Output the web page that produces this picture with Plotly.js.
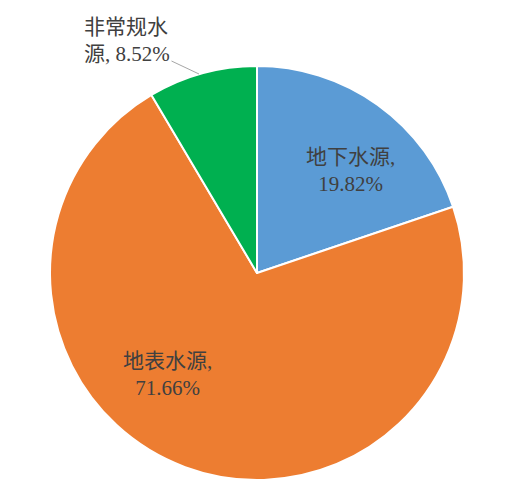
<!DOCTYPE html>
<html>
<head>
<meta charset="utf-8">
<script src="https://cdn.plot.ly/plotly-3.0.1.min.js"></script>
<style>
html, body { margin: 0; padding: 0; background: #fff; }
#chart { width: 511px; height: 500px; }
</style>
</head>
<body>
<div id="chart"></div>
<script>
// water source shares (%)
var sources = ['地下水源', '地表水源', '非常规水源'];
var shares = [19.82, 71.66, 8.52];
var colors = ['#5B9BD5', '#ED7D31', '#00B050'];

var labelFont = {family: 'Liberation Serif, Times New Roman, DejaVu Serif, Noto Sans CJK SC', size: 21, color: '#404040'};

var pieTrace = {
    type: 'pie',
    labels: sources,
    values: shares,
    textinfo: 'none',
    sort: false,
    direction: 'clockwise',
    rotation: 0,
    domain: {x: [50 / 511, 464 / 511], y: [20 / 500, 434 / 500]},
    marker: {colors: colors, line: {color: '#ffffff', width: 2}},
    showlegend: false
};

// data labels, text built from the arrays above
var pct = shares.map(function (v) { return v.toFixed(2) + '%'; });
var annos = [
    {
        text: sources[0] + ',<br>' + pct[0],
        x: 350 / 511, y: 1 - 170 / 500,
        showarrow: false
    },
    {
        text: sources[1] + ',<br>' + pct[1],
        x: 167 / 511, y: 1 - 374 / 500,
        showarrow: false
    },
    {
        text: sources[2].slice(0, 4) + '<br>' + sources[2].slice(4) + ', ' + pct[2],
        x: 199 / 511, y: 1 - 74 / 500,
        showarrow: true, arrowhead: 0, arrowwidth: 1, arrowcolor: '#a6a6a6',
        ax: -72, ay: -34, align: 'left'
    }
];
annos.forEach(function (a) {
    a.xref = 'paper';
    a.yref = 'paper';
    a.xanchor = 'center';
    a.yanchor = 'middle';
    a.font = labelFont;
});

var layout = {
    width: 511,
    height: 500,
    margin: {l: 0, r: 0, t: 0, b: 0},
    paper_bgcolor: '#ffffff',
    showlegend: false,
    annotations: annos
};

Plotly.newPlot('chart', [pieTrace], layout, {displayModeBar: false, staticPlot: true});
</script>
</body>
</html>
